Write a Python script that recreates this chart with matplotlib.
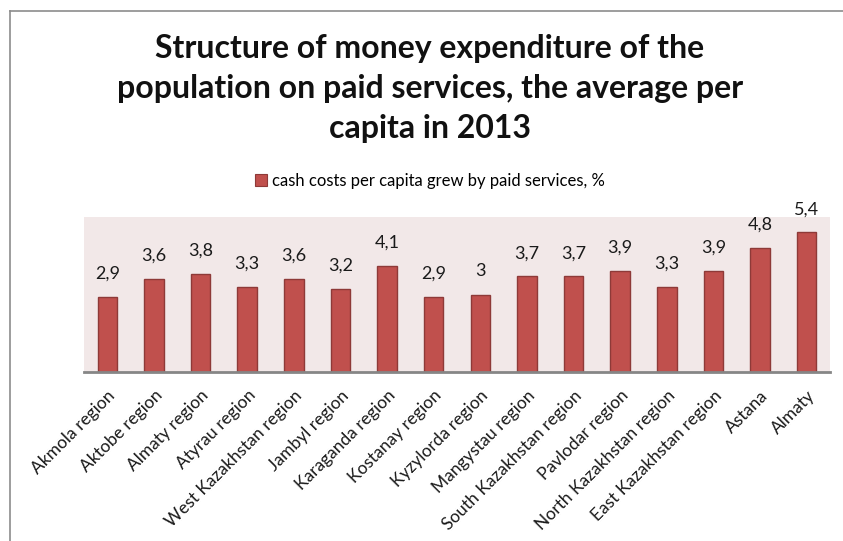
import matplotlib
matplotlib.use("Agg")
import matplotlib.pyplot as plt
from matplotlib.lines import Line2D
from matplotlib.patches import Patch

categories = ["Akmola region", "Aktobe region", "Almaty region", "Atyrau region",
              "West Kazakhstan region", "Jambyl region", "Karaganda region",
              "Kostanay region", "Kyzylorda region", "Mangystau region",
              "South Kazakhstan region", "Pavlodar region", "North Kazakhstan region",
              "East Kazakhstan region", "Astana", "Almaty"]
values = [2.9, 3.6, 3.8, 3.3, 3.6, 3.2, 4.1, 2.9, 3.0, 3.7, 3.7, 3.9, 3.3, 3.9, 4.8, 5.4]
series_name = "cash costs per capita grew by paid services, %"
title = "Structure of money expenditure of the\npopulation on paid services, the average per\ncapita in 2013"

plt.rcParams['font.family'] = ['Lato', 'DejaVu Sans']

W, H = 843, 541
fig = plt.figure(figsize=(W / 100, H / 100), dpi=100)
fig.patch.set_facecolor('white')

ax = fig.add_axes([84 / W, 1 - 372 / H, (830 - 84) / W, (372 - 217) / H])
ax.set_facecolor('#F2E8E8')

x = list(range(len(categories)))
bars = ax.bar(x, values, width=0.42, color='#C0504D', edgecolor='#8E3A38', linewidth=1.0, zorder=3)
ax.set_xlim(-0.5, len(categories) - 0.5)
ax.set_ylim(0, 6)

for xi, v in zip(x, values):
    lbl = (f"{v:g}").replace('.', ',')
    ax.annotate(lbl, (xi, v), xytext=(0, 11), textcoords='offset points',
                ha='center', va='bottom', fontsize=13, color='#1a1a1a')

for s in ['top', 'right', 'left']:
    ax.spines[s].set_visible(False)
ax.spines['bottom'].set_color('#868686')
ax.spines['bottom'].set_linewidth(2)
ax.spines['bottom'].set_zorder(4)
ax.set_yticks([])
ax.set_xticks(x)
ax.set_xticklabels(categories, rotation=45, ha='right', rotation_mode='anchor',
                   fontsize=12.5, color='#1a1a1a')
ax.tick_params(axis='x', length=0, pad=11)

fig.text(0.51, 1 - 34 / H, title, ha='center', va='top', fontsize=23,
         fontweight='bold', linespacing=1.45, color='#111111')

handle = Patch(facecolor='#C0504D', edgecolor='#8E3A38', linewidth=0.8)
fig.legend([handle], [series_name], loc='center', bbox_to_anchor=(0.51, 1 - 181 / H),
           frameon=False, fontsize=12, handlelength=0.7, handleheight=0.7,
           handletextpad=0.3)

# chart area border (top and left edges visible)
fig.add_artist(Line2D([10 / W, 1.0], [1 - 11 / H, 1 - 11 / H], color='#8c8c8c', linewidth=1.2))
fig.add_artist(Line2D([10 / W, 10 / W], [0, 1 - 11 / H], color='#8c8c8c', linewidth=1.2))

fig.savefig('out.png', dpi=100)
